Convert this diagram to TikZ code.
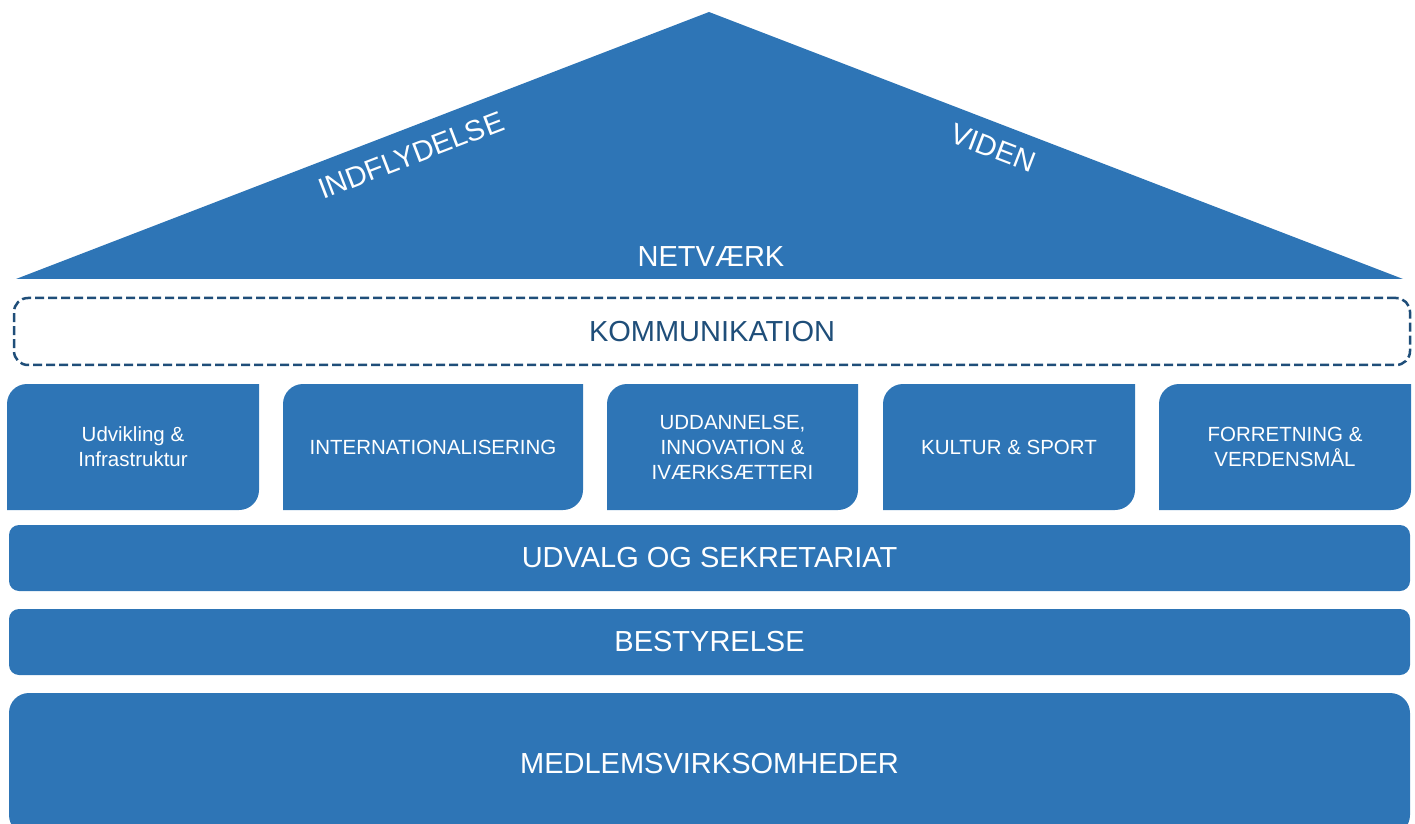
\documentclass[tikz,border=0pt]{standalone}
\usepackage{fontspec}
\setmainfont{Liberation Sans}
\usepackage{tikz}
\usetikzlibrary{positioning}
\definecolor{housebl}{HTML}{2E75B6}
\definecolor{dashbl}{HTML}{1F4E79}
\newcommand{\bigfont}{\fontsize{29}{34}\selectfont}
\newcommand{\pillarfont}{\fontsize{20.5}{25}\selectfont}
\tikzset{
  rowbox/.style={fill=housebl,rounded corners=10pt,text=white,font=\bigfont,inner sep=0pt,minimum width=1401pt,minimum height=66pt},
  roofword/.style={text=white,font=\bigfont,inner sep=0pt},
  leafbox/.style={minimum height=126pt,inner sep=0pt,align=center,text=white,font=\pillarfont,
    path picture={\fill[housebl] (path picture bounding box.south west)
      -- ([yshift=-20pt]path picture bounding box.north west) arc[start angle=180,end angle=90,radius=20pt]
      -- (path picture bounding box.north east)
      -- ([yshift=20pt]path picture bounding box.south east) arc[start angle=0,end angle=-90,radius=20pt]
      -- cycle;}}
}

\begin{document}
\begin{tikzpicture}[x=1pt,y=1pt]
    \clip (0,0) rectangle (1415,823);

    % roof
    \coordinate (roofL) at (16,544);
    \coordinate (roofR) at (1403,544);
    \coordinate (roofTop) at (709,811);
    \fill[housebl] (roofL) -- (roofTop) -- (roofR) -- cycle;
    \node[roofword] (netvaerk) at (711,566) {NETVÆRK};
    \node[roofword,rotate=21] (indfl) at (411,668) {INDFLYDELSE};
    \node[roofword,rotate=-21] (viden) at (993,675) {VIDEN};

    \node[draw=dashbl,line width=2.5pt,dash pattern=on 9pt off 4pt,rounded corners=14pt,
          minimum width=1396pt,minimum height=67pt,inner sep=0pt,text=dashbl,font=\bigfont]
          (komm) at (712,491.5) {KOMMUNIKATION};

    % pillars
    \foreach \name/\cx/\w/\txt in {udv/133/252/{Udvikling \&\\Infrastruktur},
                                   intl/433/300/{INTERNATIONALISERING},
                                   udd/732.5/251/{UDDANNELSE,\\INNOVATION \&\\IVÆRKSÆTTERI},
                                   kult/1009/252/{KULTUR \& SPORT},
                                   forr/1285/252/{FORRETNING \&\\VERDENSMÅL}} {
      \node[leafbox,minimum width=\w pt] (\name) at (\cx,376) {\txt};
    }

    \node[rowbox] (udvalg) at (709.5,265) {UDVALG OG SEKRETARIAT};
    \node[rowbox] (bestyr) at (709.5,181) {BESTYRELSE};
    \node[rowbox,rounded corners=20pt,minimum height=142pt] (medlem) at (709.5,59) {MEDLEMSVIRKSOMHEDER};
  \end{tikzpicture}
\end{document}
